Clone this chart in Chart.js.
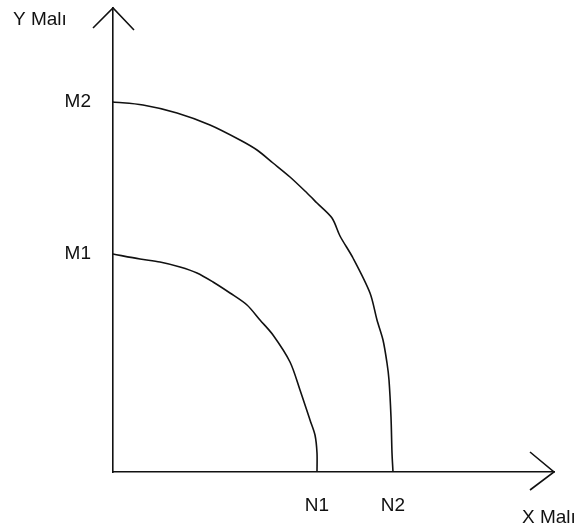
<!DOCTYPE html>
<html>
<head>
<meta charset="utf-8">
<script src="https://cdn.jsdelivr.net/npm/chart.js@4/dist/chart.umd.min.js"></script>
<style>
  html, body { margin: 0; padding: 0; background: #fff; }
  #wrap { width: 574px; height: 528px; }
</style>
</head>
<body>
<div id="wrap"><canvas id="chart" width="574" height="528"></canvas></div>
<script>
// ===========================
// Dados
// ===========================
const outerX = [0, 3.0, 6.4, 9.7, 12.7, 14.4, 16.0, 17.7, 19.4, 20.4, 21.9, 22.7, 24.0, 25.7, 26.4, 27.0, 27.4, 27.6, 27.8, 27.9, 28.0];
const outerY = [37.0, 36.7, 35.9, 34.7, 33.2, 32.2, 30.9, 29.5, 27.9, 26.9, 25.4, 23.6, 21.4, 17.9, 15.2, 13.2, 10.9, 9.2, 5.5, 1.9, 0];

const innerX = [0, 2.7, 4.7, 6.7, 8.4, 10.0, 11.7, 13.4, 14.7, 16.0, 17.7, 18.7, 19.7, 20.2, 20.4, 20.4];
const innerY = [21.8, 21.3, 21.0, 20.5, 19.9, 19.0, 17.9, 16.7, 15.2, 13.7, 11.0, 8.2, 5.2, 3.7, 1.9, 0];

const xTickValues = [20.4, 28.0];
const xTickLabels = ["N1", "N2"];
const yTickValues = [21.8, 37.0];
const yTickLabels = ["M1", "M2"];

const xAxisName = "X Malı";
const yAxisName = "Y Malı";

// pontas das setas dos eixos
const yArrowX = [-2.0, 0, 2.1];
const yArrowY = [44.4, 46.4, 44.2];
const xArrowX = [41.7, 44.1, 41.7];
const xArrowY = [2.0, 0, -1.8];

const X_MAX = 44.1;
const Y_MAX = 46.4;

const FONT = { family: "'Liberation Sans', Arial, sans-serif", size: 19 };
const INK = "#111";

function toPoints(xs, ys) {
  return xs.map((x, i) => ({ x, y: ys[i] }));
}

function lineDataset(xs, ys, tension) {
  return {
    data: toPoints(xs, ys),
    showLine: true,
    borderColor: INK,
    borderWidth: 1.6,
    pointRadius: 0,
    tension: tension,
    clip: false
  };
}

// sem padding automático dos rótulos: a área do gráfico fica fixa
function noPadding(scale) {
  scale.paddingTop = 0;
  scale.paddingBottom = 0;
  scale.paddingLeft = 0;
  scale.paddingRight = 0;
}

// ===========================
// Nomes dos eixos
// ===========================
const axisNames = {
  id: "axisNames",
  afterDraw(chart) {
    const ctx = chart.ctx;
    const area = chart.chartArea;
    ctx.save();
    ctx.fillStyle = INK;
    ctx.font = `${FONT.size}px ${FONT.family}`;
    ctx.textBaseline = "alphabetic";
    ctx.textAlign = "left";
    ctx.fillText(yAxisName, area.left - 100, area.top + 17);
    ctx.fillText(xAxisName, area.right - 32, area.bottom + 51);
    ctx.restore();
  }
};

const ctx = document.getElementById("chart").getContext("2d");
new Chart(ctx, {
  type: "scatter",
  data: {
    datasets: [
      lineDataset(outerX, outerY, 0.3),
      lineDataset(innerX, innerY, 0.3),
      lineDataset(yArrowX, yArrowY, 0),
      lineDataset(xArrowX, xArrowY, 0)
    ]
  },
  options: {
    responsive: false,
    animation: false,
    layout: { padding: { top: 8, right: 20, left: 0, bottom: 0 } },
    plugins: {
      legend: { display: false },
      tooltip: { enabled: false }
    },
    scales: {
      x: {
        type: "linear",
        min: 0,
        max: X_MAX,
        grid: { display: false, drawTicks: false },
        border: { display: true, color: INK, width: 1.6 },
        afterBuildTicks: scale => { scale.ticks = xTickValues.map(v => ({ value: v })); },
        afterFit: scale => { scale.height = 56; noPadding(scale); },
        ticks: {
          color: INK,
          font: FONT,
          padding: 22,
          maxRotation: 0,
          autoSkip: false,
          callback: v => xTickLabels[xTickValues.indexOf(v)]
        }
      },
      y: {
        type: "linear",
        min: 0,
        max: Y_MAX,
        grid: { display: false, drawTicks: false },
        border: { display: true, color: INK, width: 1.6 },
        afterBuildTicks: scale => { scale.ticks = yTickValues.map(v => ({ value: v })); },
        afterFit: scale => { scale.width = 113; noPadding(scale); },
        ticks: {
          color: INK,
          font: FONT,
          padding: 22,
          autoSkip: false,
          callback: v => yTickLabels[yTickValues.indexOf(v)]
        }
      }
    }
  },
  plugins: [axisNames]
});
</script>
</body>
</html>
